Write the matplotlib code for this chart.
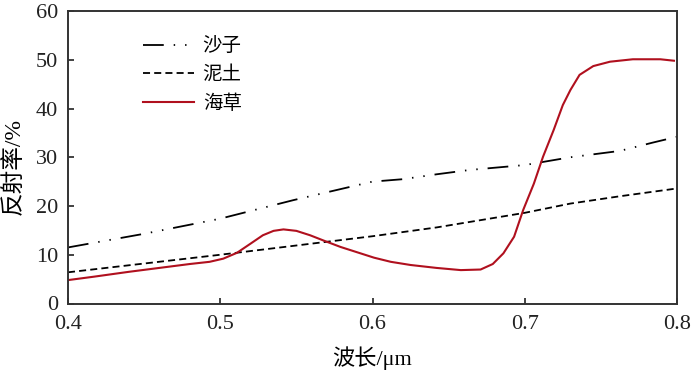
import numpy as np
import matplotlib
matplotlib.use('Agg')
import matplotlib.pyplot as plt

plt.rcParams['font.family'] = ['Liberation Serif', 'Noto Sans CJK SC']
plt.rcParams['axes.unicode_minus'] = False

# 沙子 (sand)
x_sand = [0.40, 0.45, 0.50, 0.548, 0.60, 0.62, 0.642, 0.664, 0.70, 0.73, 0.7625, 0.784, 0.80]
y_sand = [11.5, 14.3, 17.4, 21.2, 25.0, 25.5, 26.5, 27.4, 28.4, 30.0, 31.3, 33.0, 34.2]

# 泥土 (soil)
x_soil = [0.40, 0.45, 0.50, 0.55, 0.60, 0.642, 0.70, 0.73, 0.7625, 0.80]
y_soil = [6.4, 8.2, 10.0, 11.9, 13.8, 15.6, 18.6, 20.5, 22.0, 23.6]

# 海草 (seaweed)
x_weed = [0.400, 0.417, 0.440, 0.460, 0.480, 0.493, 0.502, 0.511, 0.520, 0.528, 0.535,
          0.5415, 0.550, 0.559, 0.568, 0.579, 0.590, 0.601, 0.612, 0.625, 0.642, 0.658,
          0.671, 0.679, 0.686, 0.693, 0.699, 0.706, 0.712, 0.719, 0.725, 0.730, 0.736,
          0.745, 0.756, 0.771, 0.789, 0.798]
y_weed = [4.8, 5.5, 6.5, 7.3, 8.1, 8.55, 9.2, 10.4, 12.3, 14.0, 14.9,
          15.2, 14.9, 14.0, 12.9, 11.6, 10.5, 9.4, 8.55, 7.9, 7.3, 6.85,
          6.97, 8.1, 10.3, 13.7, 19.2, 24.6, 30.1, 35.6, 40.7, 43.8, 46.9,
          48.7, 49.6, 50.1, 50.1, 49.8]

fig = plt.figure(figsize=(6.92, 3.72), dpi=100)
ax = fig.add_axes([68 / 692, 1 - 303.5 / 372, 609 / 692, 292.5 / 372])

ax.plot(x_sand, y_sand, color='black', lw=1.3, dashes=(11.5, 5.5, 0.8, 5.5, 0.8, 5.5), label='沙子')
ax.plot(x_soil, y_soil, color='black', lw=1.3, dashes=(3.9, 2.3), label='泥土')
ax.plot(x_weed, y_weed, color='#B0101E', lw=1.5, label='海草')

ax.set_xlim(0.4, 0.8)
ax.set_ylim(0, 60)
ax.set_xticks([0.4, 0.5, 0.6, 0.7, 0.8])
ax.set_xticklabels(['0.4', '0.5', '0.6', '0.7', '0.8'])
ax.set_yticks([0, 10, 20, 30, 40, 50, 60])
ax.tick_params(direction='in', length=4, width=1.2, labelsize=16, colors='#222222')
ax.tick_params(axis='x', pad=8)
ax.tick_params(axis='y', pad=7)
for s in ax.spines.values():
    s.set_linewidth(1.4)
    s.set_color('#333333')

ax.set_xlabel('波长/μm', fontsize=16, labelpad=9)
ax.set_ylabel('反射率/%', fontsize=17)
ax.yaxis.set_label_coords(-0.071, 0.47)

ax.legend(loc='upper left', bbox_to_anchor=(0.095, 0.97), frameon=False, fontsize=14,
          handlelength=2.6, handletextpad=0.45, labelspacing=0.55)

fig.savefig('out.png', dpi=100)
